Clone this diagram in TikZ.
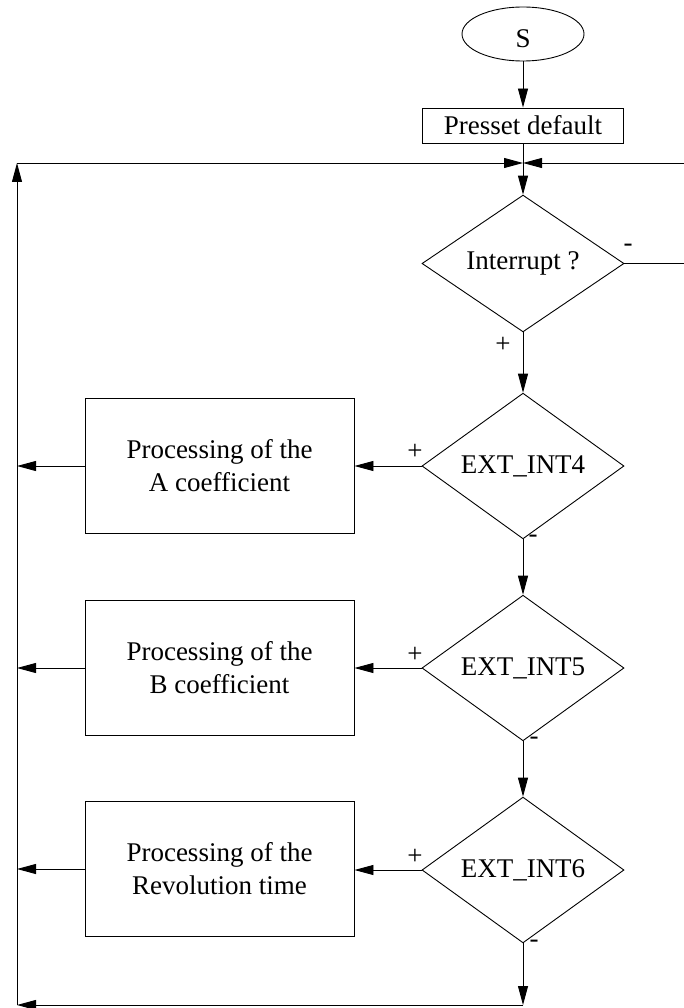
\documentclass[tikz,border=0pt]{standalone}
\usepackage{fontspec}
\setmainfont{Liberation Serif}
\usetikzlibrary{shapes.geometric,arrows.meta}
\begin{document}
\begin{tikzpicture}[x=1pt,y=-1pt,
  every node/.style={font=\fontsize{27}{33}\selectfont},
  line/.style={line width=0.9pt},
  arr/.style={line width=0.9pt,-{Triangle[length=19pt,width=10pt]}},
  dec/.style={draw,line width=0.9pt,diamond,minimum width=202pt,minimum height=134pt,inner sep=0pt},
  proc/.style={draw,line width=0.9pt,rectangle,minimum width=269pt,minimum height=135pt,inner sep=0pt,align=center},
  sign/.style={inner sep=0pt}]
\useasboundingbox (0,0) rectangle (683,1008);
% nodes
\node[draw,line width=0.9pt,ellipse,minimum width=122pt,minimum height=54pt,inner sep=0pt] (s) at (523,34) {};
\node (stext) at (523,39) {S};
\node[draw,line width=0.9pt,rectangle,minimum width=201pt,minimum height=35pt,inner sep=0pt] (preset) at (523,125.5) {Presset default};
\coordinate (join) at (523,163);
\node[dec] (intr) at (523,263.5) {Interrupt ?};
\node[dec] (d4) at (523,466) {EXT\_INT4};
\node[dec] (d5) at (523,668) {EXT\_INT5};
\node[dec] (d6) at (523,870) {EXT\_INT6};
\node[proc] (pa) at (219.5,466) {Processing of the\\A coefficient};
\node[proc] (pb) at (219.5,668) {Processing of the\\B coefficient};
\node[proc] (pc) at (219.5,869) {Processing of the\\Revolution time};
\coordinate (ltop) at (17,163);
\coordinate (lbot) at (17,1005);
\coordinate (bjoin) at (523,1005);
\coordinate (rmid) at (686,263.5);
\coordinate (rtop) at (686,163);
% connectors
\draw[arr] (s) -- (preset);
\draw[arr] (preset) -- (intr);
\draw[arr] (lbot) -- (ltop);
\draw[arr] (ltop) -- (join);
\draw[arr] (intr.east) -- (rmid) -- (rtop) -- (join);
\draw[arr] (intr.south) -- (d4.north);
\draw[arr] (d4.south) -- (d5.north);
\draw[arr] (d5.south) -- (d6.north);
\draw[arr] (d6.south) -- (bjoin);
\draw[arr] (bjoin) -- (lbot);
\draw[arr] (d4.west) -- (d4.west -| pa.east);
\draw[arr] (d5.west) -- (d5.west -| pb.east);
\draw[arr] (d6.west) -- (d6.west -| pc.east);
\draw[arr] (pa.west) -- (pa.west -| ltop);
\draw[arr] (pb.west) -- (pb.west -| ltop);
\draw[arr] (pc.west) -- (pc.west -| ltop);
% labels
\node[sign] at (628,248) {-};
\node[sign] at (503,345) {+};
\node[sign] at (415,452) {+};
\node[sign] at (533,539) {-};
\node[sign] at (415,655) {+};
\node[sign] at (534,741) {-};
\node[sign] at (415,857) {+};
\node[sign] at (534,944) {-};
\end{tikzpicture}
\end{document}
